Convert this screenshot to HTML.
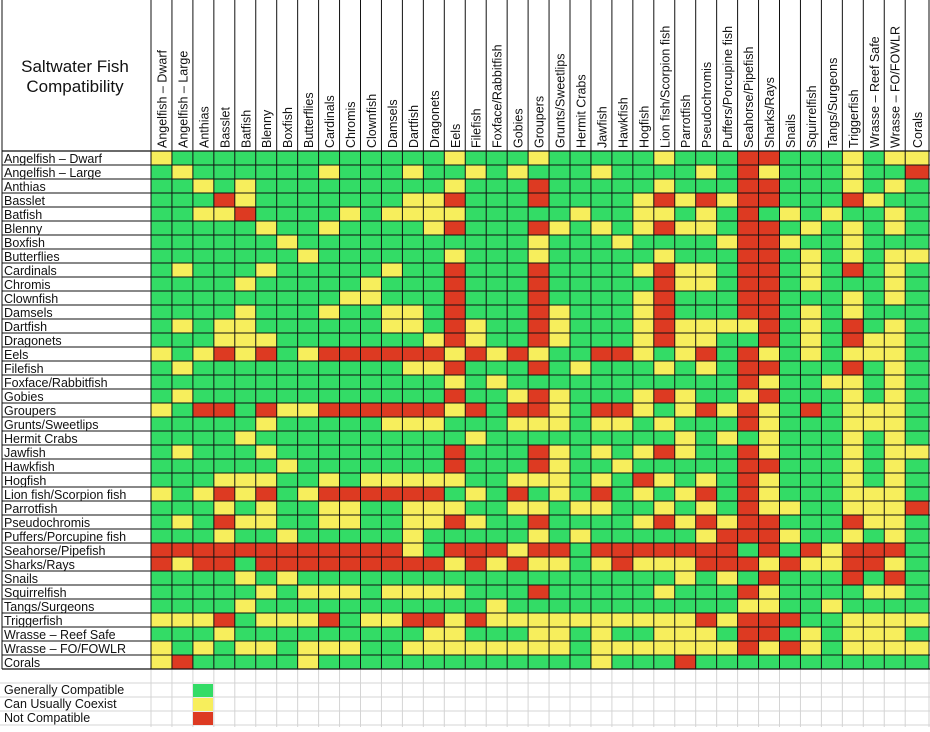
<!DOCTYPE html>
<html><head><meta charset="utf-8"><style>
body{margin:0;background:#fff}
svg text{font-family:"Liberation Sans",Arial,sans-serif;fill:#111}
</style></head><body>
<svg id="chart" width="930" height="727" viewBox="0 0 930 727" xmlns="http://www.w3.org/2000/svg">
<g id="bg-grid"></g>
<g id="cells"></g>
<g id="lines"></g>
<g id="labels"></g>
<text x="75" y="72" font-size="17" text-anchor="middle">Saltwater Fish</text>
<text x="75" y="92" font-size="17" text-anchor="middle">Compatibility</text>
<g>
<text x="4" y="694" font-size="12.5">Generally Compatible</text>
<text x="4" y="708" font-size="12.5">Can Usually Coexist</text>
<text x="4" y="722" font-size="12.5">Not Compatible</text>
<rect x="193" y="684" width="20" height="13" fill="#33dc66"/>
<rect x="193" y="698" width="20" height="13" fill="#f7ee5c"/>
<rect x="193" y="712" width="20" height="13" fill="#dd3a22"/>
</g>
</svg>
<script>
const species = ["Angelfish – Dwarf","Angelfish – Large","Anthias","Basslet","Batfish","Blenny","Boxfish","Butterflies","Cardinals","Chromis","Clownfish","Damsels","Dartfish","Dragonets","Eels","Filefish","Foxface/Rabbitfish","Gobies","Groupers","Grunts/Sweetlips","Hermit Crabs","Jawfish","Hawkfish","Hogfish","Lion fish/Scorpion fish","Parrotfish","Pseudochromis","Puffers/Porcupine fish","Seahorse/Pipefish","Sharks/Rays","Snails","Squirrelfish","Tangs/Surgeons","Triggerfish","Wrasse – Reef Safe","Wrasse – FO/FOWLR","Corals"];
const matrix = [
"YGGGGGGGGGGGG"+"GYGGGYGGGGGY"+"GGGRRGGGYGYY",
"GYGGGGGGYGGGY"+"GGYGYGGGYGGG"+"GYGRYGGGYGGR",
"GGYGYGGGGGGGG"+"GYGGGRGGGGGY"+"GGGRRGGGYGYG",
"GGGRYGGGGGGGY"+"YRGGGRGGGGYR"+"YRYRRGGGRYGG",
"GGYYRGGGGYGYY"+"YYGGGGGYGGYY"+"GYGRGYGYGGYG",
"GGGGGYGGYGGGG"+"YRGGGRYGYGYR"+"YYGRRGYGYGYG",
"GGGGGGYGGGGGG"+"GGGGGYGGGYGG"+"GGYRRYGGYGGG",
"GGGGGGGYGGGGG"+"GYGGGYGGGGGY"+"GGGRRGYGYGYY",
"GYGGGYGGGGGYG"+"GRGGGRGGGGYR"+"YYGRRGYGRGYG",
"GGGGYGGGGGYGG"+"GRGGGRGGGGGR"+"YYGRRGYGGGYG",
"GGGGGGGGGYYGG"+"GRGGGRGGGGYR"+"GGGRRGGGYGYG",
"GGGGYGGGYGGYY"+"GRGGGRYGGGYR"+"GGGRRGYGYGGG",
"GYGYYGGGGGGY"+"YGRYGGRYGGGY"+"RYYYYRGYGRGYG",
"GGGYYYGGGGGG"+"GYRYGGRYGGGY"+"RYYGGRGYGRYYG",
"YGYRYRGYRRRR"+"RRYRYRYGGRRY"+"GYRGRYGYGYYYG",
"GYGGGGGGGGGG"+"YYRGGGRGYGGG"+"YGYGRRGGGRGYG",
"GGGGGGGGGGGG"+"GGYGYGGGGGGG"+"GGGGRYGGYYGYG",
"GYGGGGGGGGGG"+"GGRGGYRYGGGY"+"RYGGYRGGGYGYG",
"YGRRGRYYRRRR"+"RRYRGRRYGRRY"+"GYRYRYGRGYYYG",
"GGGGGYGGGGGY"+"YYGGGYYYGYYG"+"YGGGRYGGGYYYG",
"GGGGYGGGGGGG"+"GGGYGGGGGGGG"+"GYGYGYGGGYGYG",
"GYGGGYGGGGGG"+"GGRGGGRYGYGY"+"RYGGRYGGGYGYY",
"GGGGGGYGGGGG"+"GGRGGGRYGGYG"+"GGGGRRGGGYGYG",
"GGGYYYGGYGYY"+"YYYGGYYYGYGR"+"YGYGRYGGGYGYG",
"YGYRYRGYRRRR"+"RRGYGRGYGRGY"+"GYRGRYGGGYYYG",
"GGGYGYGGYYGG"+"YYYGGYYGYYGG"+"YGYGRYYGGYYYR",
"GYGRYYGGYYGG"+"YYRYGGRGGGGY"+"RYRYRRGGGRYYG",
"GGGYGGYGGGGG"+"YGGGGGYGYGGG"+"GGYRRRYGGYGYG",
"RRRRRRRRRRRR"+"YGRRRYRRGRRR"+"RRRRGRGRYRRRG",
"RYRRGRRRRRRR"+"RRYRYRYYGYRY"+"YYRRRYRYYRRYG",
"GGGGYGYGGGGG"+"GGGGGGGGGGGG"+"GYGYGRGGGRGRG",
"GGGGGYGYYYGY"+"YYYGGGRGGGGG"+"YGGGRYGGGGYYG",
"GGGGYGGGGGGG"+"GGGGYGGGGGGG"+"GGGGYYGGYGGGG",
"YYYRGYYYRGYY"+"RRYRYYYYYYYY"+"YYRYRRRGGYYYY",
"GGGYGGGGGGGG"+"GYYGGGYYGYGG"+"YYYGRRGYGYYYG",
"YGYGYYGYYYGG"+"YYYYYYYYGYYY"+"YYYYRYRYGYYYY",
"YRGGGGGYGGGG"+"GGGGGGGGGYGG"+"GRGGGGGGGGGGG"
];
const colorMap = {G:"#33dc66",Y:"#f7ee5c",R:"#dd3a22"};
const NS="http://www.w3.org/2000/svg";
const X0=151, CW=20.95, Y0=151, RH=14, N=species.length;
function xCol(c){return c>=N?929:X0+c*CW;}
function yRow(r){return Y0+r*RH;}
function mk(tag,attrs,parent){const e=document.createElementNS(NS,tag);for(const k in attrs)e.setAttribute(k,attrs[k]);parent.appendChild(e);return e;}
const bg=document.getElementById('bg-grid'),cells=document.getElementById('cells'),lines=document.getElementById('lines'),labels=document.getElementById('labels');
// light spreadsheet grid below chart
for(let c=0;c<=N;c++){const l=mk('line',{x1:xCol(c),x2:xCol(c),y1:yRow(N),y2:727,stroke:"#d4d4d4","stroke-width":1},bg);

}
for(let k=1;k<=4;k++){const y=yRow(N)+k*RH;const l=mk('line',{x1:0,x2:930,y1:y,y2:y,stroke:"#d4d4d4","stroke-width":1},bg);

}
// cells
for(let r=0;r<N;r++){for(let c=0;c<N;c++){const v=matrix[r][c];const e=mk('rect',{x:xCol(c),y:yRow(r),width:xCol(c+1)-xCol(c),height:RH,fill:colorMap[v]},cells);

}}
// grid lines
for(let c=0;c<=N;c++){const l=mk('line',{x1:xCol(c),x2:xCol(c),y1:0,y2:yRow(N),stroke:"#111","stroke-width":1},lines);

}
for(let r=0;r<=N;r++){const l=mk('line',{x1:2,x2:930,y1:yRow(r),y2:yRow(r),stroke:"#111","stroke-width":r==0||r==N?1.3:1},lines);

}
{const l=mk('line',{x1:2,x2:2,y1:0,y2:yRow(N),stroke:"#111","stroke-width":1},lines);

}
// labels
for(let i=0;i<N;i++){
const t=mk('text',{x:4,y:yRow(i)+12,"font-size":12.5},labels);t.textContent=species[i];


const cx=(xCol(i)+xCol(i+1))/2+5;
const h=mk('text',{x:cx,y:148,"font-size":12.5,transform:`rotate(-90 ${cx} 148)`},labels);h.textContent=species[i];

}
</script>
</body></html>
